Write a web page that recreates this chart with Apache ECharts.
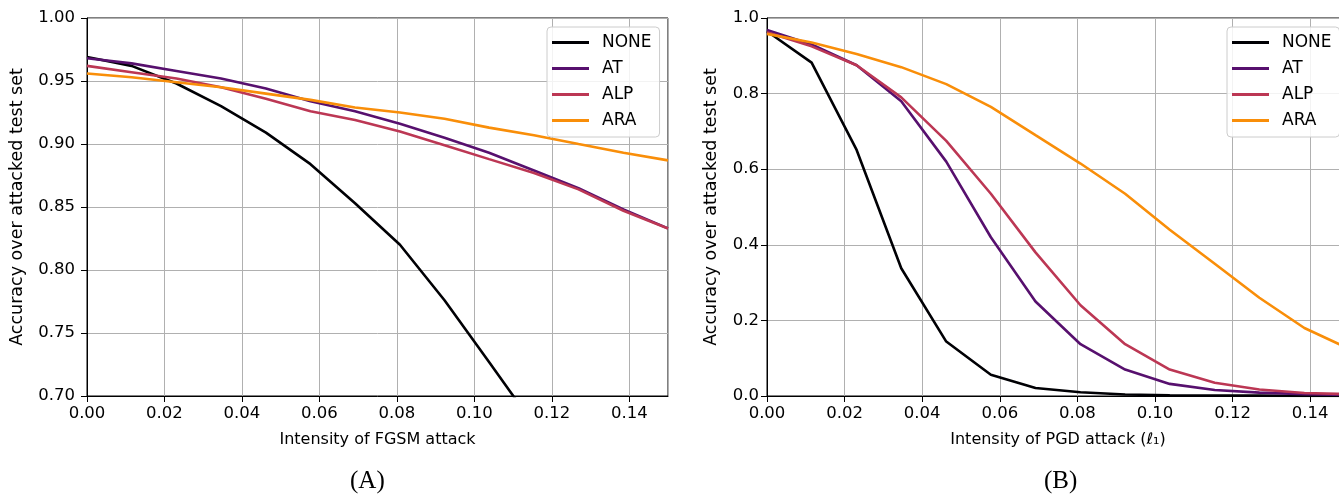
<!DOCTYPE html>
<html>
<head>
<meta charset="utf-8">
<style>
  html, body { margin: 0; padding: 0; overflow: hidden; background: #fff; }
  #main { width: 1360px; height: 498px; }
</style>
<script src="https://cdn.jsdelivr.net/npm/echarts@6/dist/echarts.min.js"></script>
</head>
<body>
<div id="main"></div>
<script>
// attack intensity (sample points)
const eps = [0, 0.0115, 0.0231, 0.0346, 0.0462, 0.0577, 0.0692, 0.0808, 0.0923, 0.1038, 0.1154, 0.1269, 0.1385, 0.15]
const methods = ['NONE', 'AT', 'ALP', 'ARA']
const colors = ['#000004', '#57106e', '#bc3754', '#f98e09']

// (A) FGSM
const fgsmNone = [0.969, 0.962, 0.948, 0.930, 0.909, 0.884, 0.853, 0.820, 0.776, 0.727, 0.677, 0.620, 0.560, 0.500]
const fgsmAT = [0.968, 0.964, 0.958, 0.952, 0.944, 0.934, 0.926, 0.916, 0.905, 0.893, 0.879, 0.865, 0.848, 0.833]
const fgsmALP = [0.962, 0.957, 0.952, 0.945, 0.936, 0.926, 0.919, 0.910, 0.899, 0.888, 0.877, 0.864, 0.847, 0.833]
const fgsmARA = [0.956, 0.953, 0.949, 0.945, 0.940, 0.935, 0.929, 0.925, 0.920, 0.913, 0.907, 0.900, 0.893, 0.887]

// (B) PGD (l1)
const pgdNone = [0.965, 0.882, 0.651, 0.338, 0.144, 0.056, 0.021, 0.010, 0.004, 0.002, 0.001, 0.001, 0.000, 0.000]
const pgdAT = [0.968, 0.930, 0.875, 0.780, 0.620, 0.420, 0.250, 0.137, 0.070, 0.032, 0.016, 0.009, 0.005, 0.003]
const pgdALP = [0.962, 0.925, 0.875, 0.790, 0.675, 0.535, 0.380, 0.240, 0.137, 0.070, 0.035, 0.017, 0.008, 0.005]
const pgdARA = [0.958, 0.935, 0.905, 0.870, 0.825, 0.765, 0.690, 0.615, 0.535, 0.440, 0.350, 0.260, 0.180, 0.125]

const fgsmData = [fgsmNone, fgsmAT, fgsmALP, fgsmARA]
const pgdData = [pgdNone, pgdAT, pgdALP, pgdARA]

const font = 'DejaVu Sans'

function pairs (ys) {
  return eps.map((x, i) => [x, ys[i]])
}

function makeXAxis (idx, name) {
  return {
    type: 'value',
    gridIndex: idx,
    min: 0,
    max: 0.15,
    interval: 0.02,
    name: name,
    nameLocation: 'middle',
    nameGap: 36,
    nameTextStyle: { fontFamily: font, fontSize: 16, color: '#000' },
    axisLine: { show: true, onZero: false, lineStyle: { color: '#000', width: 1 } },
    axisTick: { show: true, length: 6, lineStyle: { color: '#000' } },
    axisLabel: {
      fontFamily: font, fontSize: 16.5, color: '#000', margin: 9,
      showMaxLabel: false,
      formatter: v => v.toFixed(2)
    },
    splitLine: { show: true, lineStyle: { color: '#b0b0b0', width: 1 } }
  }
}

function makeYAxis (idx, min, max, step, digits, gap, margin) {
  return {
    type: 'value',
    gridIndex: idx,
    min: min,
    max: max,
    interval: step,
    name: 'Accuracy over attacked test set',
    nameLocation: 'middle',
    nameGap: gap,
    nameTextStyle: { fontFamily: font, fontSize: 17.5, color: '#000' },
    axisLine: { show: true, lineStyle: { color: '#000', width: 1 } },
    axisTick: { show: true, length: 6, lineStyle: { color: '#000' } },
    axisLabel: {
      fontFamily: font, fontSize: 16.5, color: '#000', margin: margin,
      formatter: v => v.toFixed(digits)
    },
    splitLine: { show: true, lineStyle: { color: '#b0b0b0', width: 1 } }
  }
}

// legend box in the upper right corner of each panel
function makeLegend (left) {
  return {
    orient: 'vertical',
    left: left,
    top: 27,
    data: methods,
    icon: 'rect',
    itemWidth: 37,
    itemHeight: 3,
    itemGap: 9,
    padding: [7, 8, 8, 5],
    backgroundColor: 'rgba(255,255,255,0.85)',
    borderColor: '#cccccc',
    borderWidth: 1,
    borderRadius: 4,
    selectedMode: false,
    itemStyle: { borderWidth: 0 },
    textStyle: { fontFamily: font, fontSize: 17, lineHeight: 14, color: '#000', padding: [0, 0, 0, 8] }
  }
}

const series = []
methods.forEach((m, i) => {
  series.push({
    name: m, type: 'line', xAxisIndex: 0, yAxisIndex: 0,
    data: pairs(fgsmData[i]), symbol: 'none', clip: true,
    color: colors[i],
    lineStyle: { color: colors[i], width: 2.6 }
  })
  series.push({
    name: m, type: 'line', xAxisIndex: 1, yAxisIndex: 1,
    data: pairs(pgdData[i]), symbol: 'none', clip: true,
    color: colors[i],
    lineStyle: { color: colors[i], width: 2.6 }
  })
})

const chart = echarts.init(document.getElementById('main'))
chart.setOption({
  animation: false,
  backgroundColor: '#fff',
  grid: [
    { left: 87, top: 18, width: 581, height: 378, show: true, borderColor: '#000', borderWidth: 1 },
    { left: 767, top: 18, width: 582, height: 378, show: true, borderColor: '#000', borderWidth: 1 }
  ],
  xAxis: [
    makeXAxis(0, 'Intensity of FGSM attack'),
    makeXAxis(1, 'Intensity of PGD attack (\u2113\u2081)')
  ],
  yAxis: [
    makeYAxis(0, 0.70, 1.00, 0.05, 2, 61, 12),
    makeYAxis(1, 0, 1, 0.2, 1, 47, 8)
  ],
  legend: [makeLegend(547), makeLegend(1227)],
  graphic: [
    { type: 'text', left: 350, top: 469, style: { text: '(A)', font: '25px "Liberation Serif"', fill: '#000' } },
    { type: 'text', left: 1044, top: 469, style: { text: '(B)', font: '25px "Liberation Serif"', fill: '#000' } }
  ],
  series: series
})
</script>
</body>
</html>
